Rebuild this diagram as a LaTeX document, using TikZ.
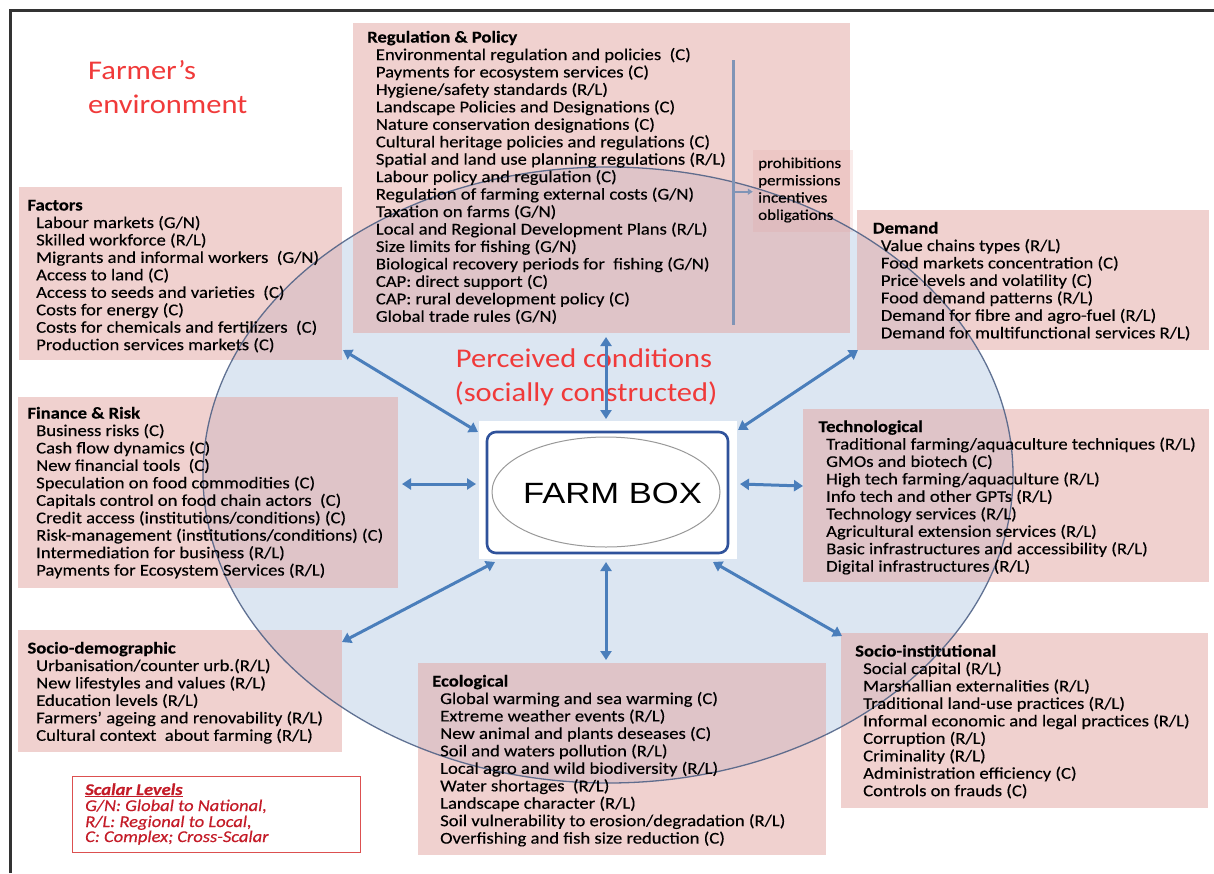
\documentclass[tikz,border=0pt]{standalone}
\usepackage{fontspec}
\setmainfont{Carlito}[FakeStretch=1.13,FakeBold=0.35]
\newfontfamily\headfont{Carlito}[FakeStretch=1.13]
\newfontfamily\farmfont{Liberation Sans}[FakeStretch=1.18]
\usetikzlibrary{arrows.meta,fit}

\definecolor{boxpink}{RGB}{226,164,160}
\definecolor{ellfill}{RGB}{220,230,242}
\definecolor{ellline}{RGB}{72,92,130}
\definecolor{arrowblue}{RGB}{74,126,187}
\definecolor{farmblue}{RGB}{47,82,155}
\definecolor{headred}{RGB}{240,58,58}
\definecolor{legred}{RGB}{196,28,40}
\definecolor{legborder}{RGB}{220,80,80}
\definecolor{barline}{RGB}{128,148,182}

\tikzset{
  pinkbox/.style={fill=boxpink, fill opacity=0.5, inner sep=0pt},
  itemtxt/.style={anchor=base west, inner sep=0pt, font=\fontsize{16.5}{17.45}\selectfont},
  titletxt/.style={itemtxt, font=\fontsize{16.5}{17.45}\selectfont\bfseries},
  headtxt/.style={inner sep=0pt, text=headred, font=\headfont\fontsize{27}{34}\selectfont},
  legtxt/.style={anchor=base west, inner sep=0pt, text=legred, font=\fontsize{16.4}{15.6}\selectfont\itshape},
  biarrow/.style={draw=arrowblue, line width=3pt,
    {Triangle[length=9pt,width=11pt]}-{Triangle[length=9pt,width=11pt]}},
}

% one line per item, first baseline at y, fixed line step
\newcommand\itemlines[4]{%
  \foreach \t [count=\i] in {#4}{%
    \node[itemtxt] (#1-\i) at (#2,{#3+(\i-1)*17.45}) {\t};}}

\begin{document}
\begin{tikzpicture}[x=1pt,y=-1pt]
\useasboundingbox (0,0) rectangle (1214,873);

% frame
\draw[line width=2.8pt, black!80] (10.7,873) -- (10.7,10.7) -- (1214,10.7);

% perceived-conditions ellipse
\fill[ellfill] (608,475) ellipse [x radius=405pt, y radius=308pt];

% category boxes
\node[pinkbox, fit={(353,23) (850,333)}] (reg) {};
\node[pinkbox, fill opacity=0.22, fit={(753,150) (853,232)}] (modes) {};
\node[pinkbox, fit={(19,187) (342,360)}] (fac) {};
\node[pinkbox, fit={(857,210) (1209,350)}] (dem) {};
\node[pinkbox, fit={(18,397) (398,588)}] (fin) {};
\node[pinkbox, fit={(803,409) (1209,582)}] (tech) {};
\node[pinkbox, fit={(18,630) (342,752)}] (soc) {};
\node[pinkbox, fit={(418,663) (826,855)}] (eco) {};
\node[pinkbox, fit={(841,633) (1208,808)}] (inst) {};

\draw[ellline, line width=1.3pt, draw opacity=0.85] (608,475) ellipse [x radius=405pt, y radius=308pt];

% Regulation & Policy
\node[titletxt] (reg-t) at (367,42.5) {Regulation \& Policy};
\itemlines{reg}{375.7}{60}{Environmental regulation and policies\ \ (C),
  Payments for ecosystem services (C),
  Hygiene/safety standards (R/L),
  Landscape Policies and Designations (C),
  Nature conservation designations (C),
  Cultural heritage policies and regulations (C),
  Spatial and land use planning regulations (R/L),
  Labour policy and regulation (C),
  Regulation of farming external costs (G/N),
  Taxation on farms (G/N),
  Local and Regional Development Plans (R/L),
  Size limits for fishing (G/N),
  Biological recovery periods for\ \ fishing (G/N),
  CAP: direct support (C),
  CAP: rural development policy (C),
  Global trade rules (G/N)}
\coordinate (bar-top) at (733.3,60);
\coordinate (bar-bot) at (733.3,325);
\draw[barline, line width=3pt] (bar-top) -- (bar-bot);
\coordinate (bar-mid) at (733.3,191.7);
\draw[barline, line width=2pt, -{Triangle[length=5pt,width=6pt]}] (bar-mid) -- (modes.west |- bar-mid);
\foreach \t [count=\i] in {prohibitions,permissions,incentives,obligations}
  \node[anchor=base west, inner sep=0pt, font=\fontsize{15}{17.3}\selectfont] (modes-\i) at (758,{168+(\i-1)*17.3}) {\t};

% Factors
\node[titletxt] (fac-t) at (27.3,210.5) {Factors};
\itemlines{fac}{36}{228}{Labour markets (G/N),
  Skilled workforce (R/L),
  Migrants and informal workers\ \ (G/N),
  Access to land (C),
  Access to seeds and varieties\ \ (C),
  Costs for energy (C),
  Costs for chemicals and fertilizers\ \ (C),
  Production services markets (C)}

% Demand
\node[titletxt] (dem-t) at (872.7,233.5) {Demand};
\itemlines{dem}{880.7}{251}{Value chains types (R/L),
  Food markets concentration (C),
  Price levels and volatility (C),
  Food demand patterns (R/L),
  Demand for fibre and agro-fuel (R/L),
  Demand for multifunctional services R/L)}

% Finance & Risk
\node[titletxt] (fin-t) at (27.3,418.5) {Finance \& Risk};
\itemlines{fin}{36}{436}{Business risks (C),
  Cash flow dynamics (C),
  New financial tools\ \ (C),
  Speculation on food commodities (C),
  Capitals control on food chain actors\ \ (C),
  Credit access (institutions/conditions) (C),
  Risk-management (institutions/conditions) (C),
  Intermediation for business (R/L),
  Payments for Ecosystem Services (R/L)}

% Technological
\node[titletxt] (tech-t) at (818.3,432) {Technological};
\itemlines{tech}{826}{449.5}{Traditional farming/aquaculture techniques (R/L),
  GMOs and biotech (C),
  High tech farming/aquaculture (R/L),
  Info tech and other GPTs (R/L),
  Technology services (R/L),
  Agricultural extension services (R/L),
  Basic infrastructures and accessibility (R/L),
  Digital infrastructures (R/L)}

% Socio-demographic
\node[titletxt] (soc-t) at (27.3,653.5) {Socio-demographic};
\itemlines{soc}{36}{671}{Urbanisation/counter urb.(R/L),
  New lifestyles and values (R/L),
  Education levels (R/L),
  Farmers’ ageing and renovability (R/L),
  Cultural context\ \ about farming (R/L)}

% Ecological
\node[titletxt] (eco-t) at (432,686.5) {Ecological};
\itemlines{eco}{440}{704}{Global warming and sea warming (C),
  Extreme weather events (R/L),
  New animal and plants deseases (C),
  Soil and waters pollution (R/L),
  Local agro and wild biodiversity (R/L),
  Water shortages\ \ (R/L),
  Landscape character (R/L),
  Soil vulnerability to erosion/degradation (R/L),
  Overfishing and fish size reduction (C)}

% Socio-institutional
\node[titletxt] (inst-t) at (855,656.5) {Socio-institutional};
\itemlines{inst}{863}{674}{Social capital (R/L),
  Marshallian externalities (R/L),
  Traditional land-use practices (R/L),
  Informal economic and legal practices (R/L),
  Corruption (R/L),
  Criminality (R/L),
  Administration efficiency (C),
  Controls on frauds (C)}

% headings
\node[headtxt, anchor=base west] (env1) at (88,79) {Farmer’s};
\node[headtxt, anchor=base west] (env2) at (88,113) {environment};
\node[headtxt, anchor=base] (perc1) at (584,367) {Perceived conditions};
\node[headtxt, anchor=base] (perc2) at (586,401) {(socially constructed)};

% scalar levels legend
\node[draw=legborder, line width=1pt, fill=white, fit={(72.7,776.7) (360,852.3)}, inner sep=0pt] (leg) {};
\node[legtxt, font=\fontsize{16.4}{15.6}\selectfont\bfseries\itshape] (leg-1) at (85,795) {\underline{Scalar Levels}};
\node[legtxt] (leg-2) at (85,811) {G/N: Global to National,};
\node[legtxt] (leg-3) at (85,827) {R/L: Regional to Local,};
\node[legtxt] (leg-4) at (85,842) {C: Complex; Cross-Scalar};

% farm box
\node[fill=white, fit={(479,421) (737,559)}, inner sep=0pt] (farmbg) {};
\node[draw=farmblue, line width=2.6pt, rounded corners=9pt, fit={(487,432) (728,553)}, inner sep=0pt] (farmframe) {};
\draw[black!40, line width=1pt] (606,492) ellipse [x radius=114pt, y radius=55pt];
\node[inner sep=0pt, font=\farmfont\fontsize{29.3}{34}\selectfont] (farm) at (612.5,493.5) {FARM BOX};

% influence arrows
\coordinate (a1) at (606,337);   \coordinate (b1) at (606,419);
\coordinate (a2) at (343,350);   \coordinate (b2) at (478,432);
\coordinate (a3) at (858,350);   \coordinate (b3) at (738,430);
\coordinate (a4) at (402,484);   \coordinate (b4) at (476,484);
\coordinate (a5) at (803,486);   \coordinate (b5) at (740,484);
\coordinate (a6) at (342,642);   \coordinate (b6) at (495,562);
\coordinate (a7) at (606,660);   \coordinate (b7) at (606,562);
\coordinate (a8) at (842,636);   \coordinate (b8) at (713,562);
\foreach \k in {1,...,8} \draw[biarrow] (a\k) -- (b\k);

\end{tikzpicture}
\end{document}
